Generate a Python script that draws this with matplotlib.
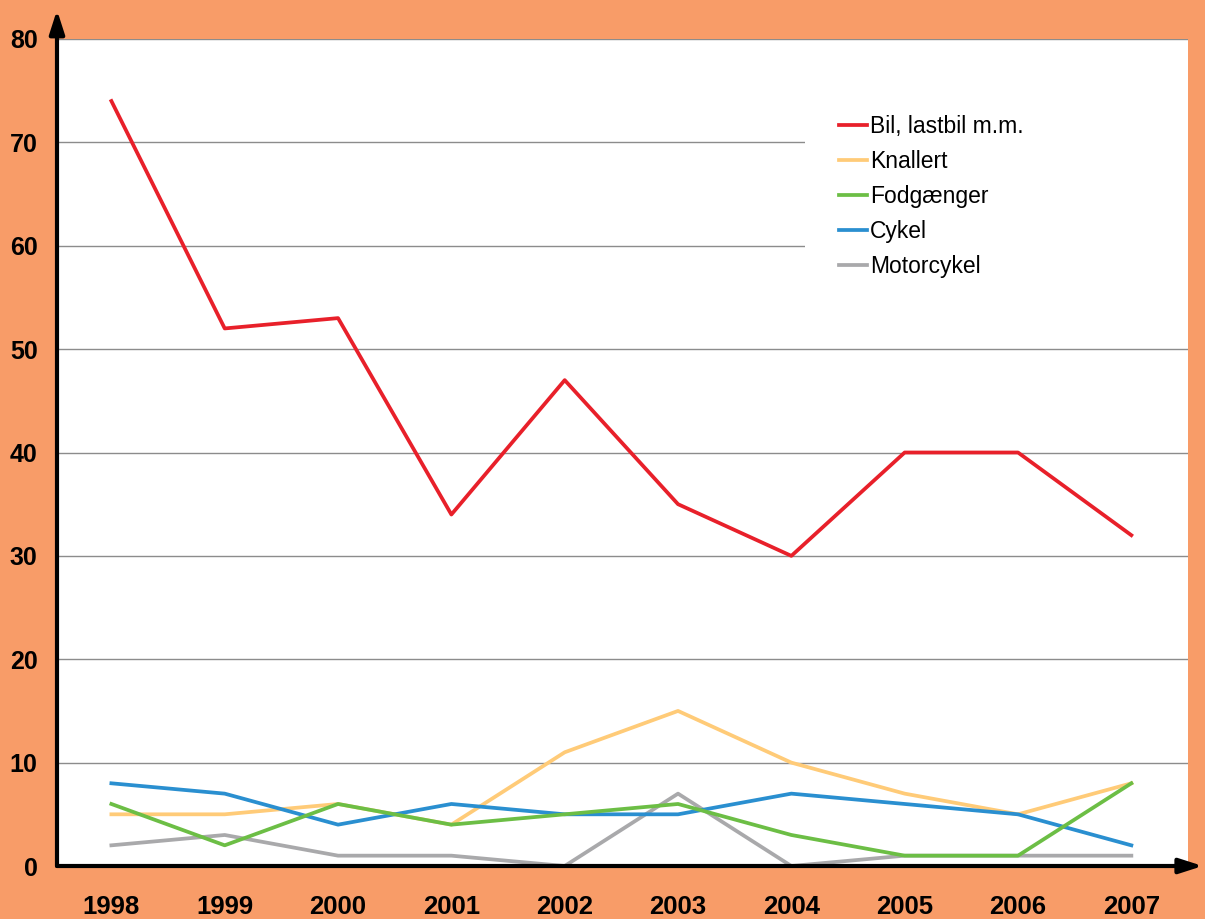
import matplotlib.pyplot as plt
from matplotlib.patches import Rectangle

plt.rcParams['font.family'] = ['Liberation Sans', 'DejaVu Sans']

# data
years = [1998, 1999, 2000, 2001, 2002, 2003, 2004, 2005, 2006, 2007]
bil = [74, 52, 53, 34, 47, 35, 30, 40, 40, 32]
knallert = [5, 5, 6, 4, 11, 15, 10, 7, 5, 8]
fodgaenger = [6, 2, 6, 4, 5, 6, 3, 1, 1, 8]
cykel = [8, 7, 4, 6, 5, 5, 7, 6, 5, 2]
motorcykel = [2, 3, 1, 1, 0, 7, 0, 1, 1, 1]

labels = ['Bil, lastbil m.m.', 'Knallert', 'Fodgænger', 'Cykel', 'Motorcykel']
colors = ['#E8202A', '#FFCB78', '#6CBE45', '#2A8FD0', '#A9A9AB']

BG = '#F89C68'

fig = plt.figure(figsize=(12.05, 9.19), dpi=100, facecolor=BG)
ax = fig.add_axes([57 / 1205, 53 / 919, 1131 / 1205, 827 / 919])
ax.set_facecolor('white')

series = [bil, knallert, fodgaenger, cykel, motorcykel]
zorders = [6, 3, 5, 4, 2]
handles = []
for vals, lab, col, z in zip(series, labels, colors, zorders):
    h, = ax.plot(years, vals, color=col, lw=2.7, label=lab, zorder=z)
    handles.append(h)

ax.set_xlim(1997.52, 2007.5)
ax.set_ylim(0, 80)
ax.set_yticks(range(0, 81, 10))
ax.set_xticks(years)
ax.grid(axis='y', color='#8C8C8C', lw=1)
ax.set_axisbelow(True)
for s in ax.spines.values():
    s.set_visible(False)
ax.tick_params(length=0)
ax.tick_params(axis='y', pad=14, labelsize=18)
ax.tick_params(axis='x', pad=21, labelsize=18.5)
for t in ax.get_xticklabels() + ax.get_yticklabels():
    t.set_fontweight('bold')

# white box behind the legend hides part of the grid
ax.add_patch(Rectangle((0.661, 0.70), 0.339, 0.235, transform=ax.transAxes,
                       facecolor='white', edgecolor='none', zorder=1.5))

leg = ax.legend(handles=handles, loc='upper left',
                bbox_to_anchor=(830 / 1205, 1 - 106 / 919),
                bbox_transform=fig.transFigure, frameon=False,
                fontsize=16.5, handlelength=1.2, handletextpad=0.15,
                labelspacing=0.52, borderaxespad=0)

# axis arrows
ax.annotate('', xy=(0, 1.035), xytext=(0, 0), xycoords='axes fraction',
            arrowprops=dict(arrowstyle='-|>,head_length=1.4,head_width=0.45',
                            color='black', lw=3, shrinkA=0, shrinkB=0),
            annotation_clip=False)
ax.annotate('', xy=(1.013, 0), xytext=(0, 0), xycoords='axes fraction',
            arrowprops=dict(arrowstyle='-|>,head_length=1.4,head_width=0.45',
                            color='black', lw=3, shrinkA=0, shrinkB=0),
            annotation_clip=False)

fig.savefig('out.png', dpi=100, facecolor=BG)
